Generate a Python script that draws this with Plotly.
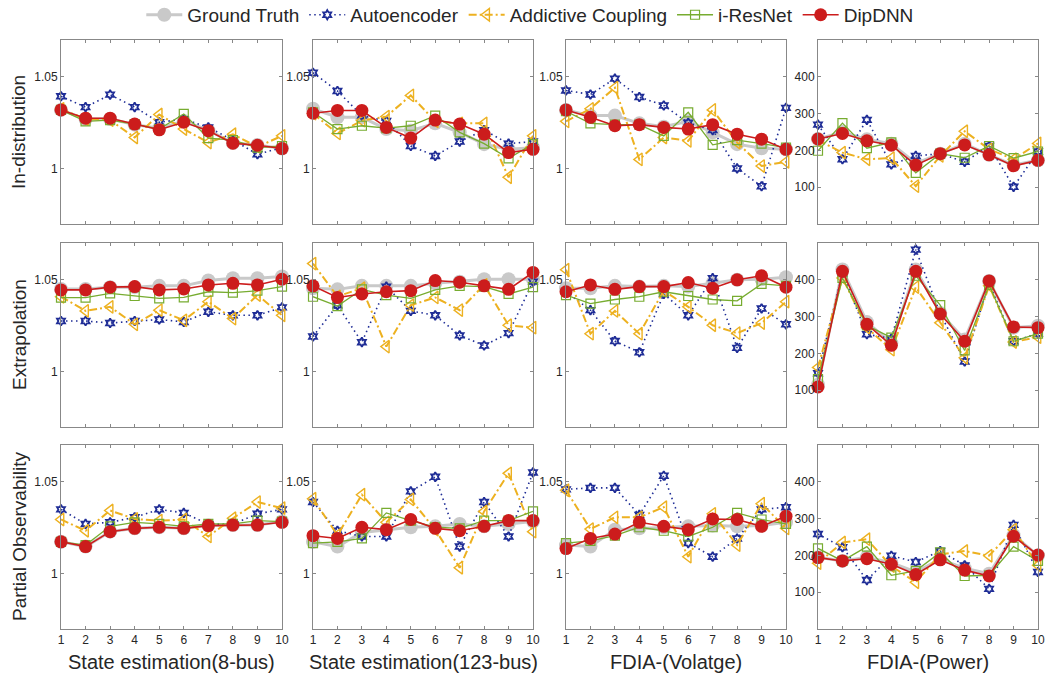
import plotly.graph_objects as go

x = list(range(1, 11))

methods = ["Ground Truth", "Autoencoder", "Addictive Coupling", "i-ResNet", "DipDNN"]
row_labels = ["In-distribution", "Extrapolation", "Partial Observability"]
col_titles = ["State estimation(8-bus)", "State estimation(123-bus)", "FDIA-(Volatge)", "FDIA-(Power)"]

v_ticks = [1, 1.05]
v_ticktext = ["1", "1.05"]
p_ticks = [100, 200, 300, 400]
p_ticktext = ["100", "200", "300", "400"]

# ---------- Row 1: In-distribution ----------
gt_r1c1 = [1.032, 1.027, 1.027, 1.024, 1.022, 1.026, 1.021, 1.014, 1.013, 1.011]
ae_r1c1 = [1.0394, 1.0335, 1.0403, 1.0335, 1.0253, 1.027, 1.0225, 1.0156, 1.0079, 1.0115]
ac_r1c1 = [1.0326, 1.027, 1.0265, 1.017, 1.0295, 1.0216, 1.0143, 1.0188, 1.0119, 1.0179]
ir_r1c1 = [1.032, 1.0258, 1.0265, 1.0243, 1.0216, 1.0298, 1.0167, 1.0156, 1.0115, 1.0124]
dd_r1c1 = [1.032, 1.0275, 1.0275, 1.0243, 1.0212, 1.0253, 1.0207, 1.0139, 1.0128, 1.011]

gt_r1c2 = [1.0326, 1.028, 1.028, 1.0216, 1.0207, 1.0247, 1.0198, 1.0134, 1.0106, 1.0115]
ae_r1c2 = [1.0522, 1.0423, 1.0289, 1.026, 1.0124, 1.007, 1.0148, 1.021, 1.0137, 1.0148]
ac_r1c2 = [1.030, 1.0192, 1.0262, 1.0284, 1.0399, 1.0258, 1.0247, 1.0247, 0.9954, 1.0179]
ir_r1c2 = [1.0307, 1.0216, 1.0234, 1.0221, 1.0234, 1.0289, 1.0198, 1.0137, 1.0057, 1.0134]
dd_r1c2 = [1.0302, 1.0317, 1.0317, 1.0225, 1.0167, 1.0265, 1.0243, 1.0188, 1.0088, 1.0106]

gt_r1c3 = [1.032, 1.0289, 1.0289, 1.0247, 1.0229, 1.0258, 1.0198, 1.0134, 1.0112, 1.0106]
ae_r1c3 = [1.0426, 1.0404, 1.049, 1.039, 1.0344, 1.025, 1.021, 1.0002, 0.9905, 1.0331]
ac_r1c3 = [1.0258, 1.0326, 1.0441, 1.0051, 1.017, 1.0152, 1.032, 1.0143, 1.0015, 1.0038]
ir_r1c3 = [1.0313, 1.0247, 1.024, 1.024, 1.0179, 1.0307, 1.013, 1.0156, 1.0137, 1.0115]
dd_r1c3 = [1.032, 1.028, 1.0234, 1.024, 1.0225, 1.0216, 1.024, 1.0188, 1.0161, 1.0106]

gt_r1c4 = [231, 250, 230, 218, 165, 191, 218, 188, 160, 173]
ae_r1c4 = [270, 176, 283, 162, 185, 191, 169, 212, 101, 197]
ac_r1c4 = [228, 194, 176, 179, 103, 185, 252, 203, 176, 219]
ir_r1c4 = [199, 274, 206, 222, 139, 191, 180, 212, 179, 197]
dd_r1c4 = [231, 246, 226, 214, 160, 191, 215, 188, 158, 173]

# ---------- Row 2: Extrapolation ----------
gt_r2c1 = [1.045, 1.045, 1.046, 1.046, 1.0467, 1.0467, 1.0496, 1.0509, 1.0509, 1.0518]
ae_r2c1 = [1.0276, 1.0276, 1.0265, 1.0276, 1.0284, 1.0271, 1.0326, 1.0307, 1.0307, 1.035]
ac_r2c1 = [1.0408, 1.0331, 1.0353, 1.0258, 1.0335, 1.028, 1.0381, 1.0289, 1.0417, 1.0307]
ir_r2c1 = [1.0403, 1.0403, 1.0426, 1.0412, 1.0399, 1.0404, 1.0435, 1.043, 1.0441, 1.0463]
dd_r2c1 = [1.0445, 1.0445, 1.046, 1.0463, 1.0445, 1.045, 1.0472, 1.0481, 1.0472, 1.0503]

gt_r2c2 = [1.0454, 1.0448, 1.0467, 1.0467, 1.0467, 1.0481, 1.049, 1.0503, 1.0503, 1.0503]
ae_r2c2 = [1.0192, 1.0362, 1.0161, 1.0463, 1.0331, 1.0307, 1.0198, 1.0143, 1.021, 1.049]
ac_r2c2 = [1.0588, 1.041, 1.0454, 1.0137, 1.0362, 1.0404, 1.0335, 1.0472, 1.0253, 1.024]
ir_r2c2 = [1.0408, 1.0357, 1.0448, 1.0417, 1.0399, 1.0445, 1.0467, 1.0463, 1.0423, 1.046]
dd_r2c2 = [1.0467, 1.0404, 1.0423, 1.0435, 1.0441, 1.0496, 1.0487, 1.0467, 1.0448, 1.054]

gt_r2c3 = [1.0454, 1.0454, 1.0467, 1.0463, 1.0467, 1.0463, 1.0481, 1.05, 1.0503, 1.0514]
ae_r2c3 = [1.0435, 1.0335, 1.0167, 1.0106, 1.0423, 1.0307, 1.0509, 1.013, 1.0344, 1.0258]
ac_r2c3 = [1.0555, 1.0207, 1.0331, 1.0207, 1.0441, 1.0353, 1.0253, 1.021, 1.0265, 1.0381]
ir_r2c3 = [1.0417, 1.0371, 1.0393, 1.0408, 1.0435, 1.0412, 1.0393, 1.0386, 1.0478, 1.0467]
dd_r2c3 = [1.0435, 1.0472, 1.0448, 1.0463, 1.0463, 1.0485, 1.0454, 1.05, 1.0522, 1.046]

gt_r2c4 = [115, 428, 285, 228, 428, 310, 238, 397, 270, 275]
ae_r2c4 = [146, 418, 252, 240, 482, 308, 178, 391, 233, 254]
ac_r2c4 = [162, 405, 270, 210, 380, 283, 188, 384, 231, 244]
ir_r2c4 = [130, 405, 276, 243, 411, 331, 208, 386, 233, 254]
dd_r2c4 = [109, 423, 279, 222, 423, 307, 233, 397, 272, 270]

# ---------- Row 3: Partial Observability ----------
gt_r3c1 = [1.0174, 1.0148, 1.0229, 1.0247, 1.0253, 1.0247, 1.0262, 1.0265, 1.0265, 1.0284]
ae_r3c1 = [1.035, 1.0271, 1.028, 1.0307, 1.035, 1.0331, 1.027, 1.027, 1.0326, 1.035]
ac_r3c1 = [1.0295, 1.0234, 1.0344, 1.0298, 1.0289, 1.0295, 1.0203, 1.0302, 1.039, 1.0357]
ir_r3c1 = [1.0174, 1.0156, 1.0258, 1.028, 1.0271, 1.0258, 1.0271, 1.0271, 1.0289, 1.0284]
dd_r3c1 = [1.0174, 1.0148, 1.0229, 1.0247, 1.0253, 1.0247, 1.0262, 1.0265, 1.0265, 1.028]

gt_r3c2 = [1.0174, 1.0148, 1.0225, 1.024, 1.0253, 1.0258, 1.0271, 1.0258, 1.0271, 1.0284]
ae_r3c2 = [1.039, 1.0234, 1.0203, 1.0203, 1.0448, 1.0527, 1.0148, 1.039, 1.0203, 1.0551]
ac_r3c2 = [1.0408, 1.021, 1.043, 1.028, 1.0404, 1.024, 1.0033, 1.0339, 1.0546, 1.0229]
ir_r3c2 = [1.0167, 1.0174, 1.0192, 1.0331, 1.0289, 1.0253, 1.0247, 1.0289, 1.0289, 1.0339]
dd_r3c2 = [1.0207, 1.0192, 1.0253, 1.024, 1.0295, 1.0247, 1.0234, 1.0258, 1.0289, 1.0289]

gt_r3c3 = [1.0156, 1.0148, 1.024, 1.0247, 1.0253, 1.0258, 1.0262, 1.0258, 1.0262, 1.028]
ae_r3c3 = [1.0459, 1.0467, 1.0467, 1.032, 1.0533, 1.0167, 1.0093, 1.0192, 1.035, 1.0362]
ac_r3c3 = [1.0454, 1.0243, 1.0307, 1.0307, 1.0362, 1.0093, 1.0326, 1.0156, 1.0381, 1.0247]
ir_r3c3 = [1.0167, 1.0179, 1.0207, 1.0253, 1.0234, 1.0203, 1.0253, 1.0331, 1.0295, 1.0271]
dd_r3c3 = [1.0137, 1.0192, 1.0216, 1.028, 1.0258, 1.024, 1.0298, 1.0295, 1.0258, 1.0313]

gt_r3c4 = [195, 185, 195, 180, 155, 190, 165, 150, 255, 200]
ae_r3c4 = [258, 222, 133, 199, 182, 212, 173, 109, 283, 155]
ac_r3c4 = [179, 235, 244, 171, 127, 203, 212, 199, 270, 173]
ir_r3c4 = [219, 185, 224, 146, 158, 208, 144, 146, 224, 185]
dd_r3c4 = [194, 185, 191, 176, 148, 188, 160, 144, 252, 201]

panels = [
    [(gt_r1c1, ae_r1c1, ac_r1c1, ir_r1c1, dd_r1c1), (gt_r1c2, ae_r1c2, ac_r1c2, ir_r1c2, dd_r1c2),
     (gt_r1c3, ae_r1c3, ac_r1c3, ir_r1c3, dd_r1c3), (gt_r1c4, ae_r1c4, ac_r1c4, ir_r1c4, dd_r1c4)],
    [(gt_r2c1, ae_r2c1, ac_r2c1, ir_r2c1, dd_r2c1), (gt_r2c2, ae_r2c2, ac_r2c2, ir_r2c2, dd_r2c2),
     (gt_r2c3, ae_r2c3, ac_r2c3, ir_r2c3, dd_r2c3), (gt_r2c4, ae_r2c4, ac_r2c4, ir_r2c4, dd_r2c4)],
    [(gt_r3c1, ae_r3c1, ac_r3c1, ir_r3c1, dd_r3c1), (gt_r3c2, ae_r3c2, ac_r3c2, ir_r3c2, dd_r3c2),
     (gt_r3c3, ae_r3c3, ac_r3c3, ir_r3c3, dd_r3c3), (gt_r3c4, ae_r3c4, ac_r3c4, ir_r3c4, dd_r3c4)],
]

# ---------- styles ----------
styles = [
    dict(line=dict(color="#c9c9c9", width=3), marker=dict(symbol="circle", size=14, color="#c9c9c9")),
    dict(line=dict(color="#1f2d96", width=1.6, dash="1.5px,3.5px"),
         marker=dict(symbol="hexagram-open", size=7, color="#1f2d96", line=dict(width=1.8, color="#1f2d96"))),
    dict(line=dict(color="#EDB120", width=2, dash="8px,3px,2px,3px"),
         marker=dict(symbol="triangle-left-open", size=11, color="#EDB120", line=dict(width=1.4, color="#EDB120"))),
    dict(line=dict(color="#77AC30", width=1.3),
         marker=dict(symbol="square-open", size=9, color="#77AC30", line=dict(width=1.2, color="#77AC30"))),
    dict(line=dict(color="#cc1c1c", width=1.6), marker=dict(symbol="circle", size=13, color="#cc1c1c")),
]

W, H = 1048, 680
col_px = [(61, 282), (313, 533), (566, 786), (818, 1038)]
row_px = [(40, 224), (243, 427), (445, 629)]

FONT = "Liberation Sans, Arial, Helvetica, sans-serif"
AXCOL = "#888888"
TXT = "#262626"

fig = go.Figure()
layout = {}
for r in range(3):
    for c in range(4):
        n = r * 4 + c + 1
        xa = "x" if n == 1 else f"x{n}"
        ya = "y" if n == 1 else f"y{n}"
        for k, series in enumerate(panels[r][c]):
            st = styles[k]
            fig.add_trace(go.Scatter(
                x=x, y=series, mode="lines+markers", name=methods[k],
                line=st["line"], marker=st["marker"], cliponaxis=False,
                showlegend=(n == 1), xaxis=xa, yaxis=ya,
            ))
        x0, x1 = col_px[c]
        y0, y1 = row_px[r]
        xkey = "xaxis" if n == 1 else f"xaxis{n}"
        ykey = "yaxis" if n == 1 else f"yaxis{n}"
        layout[xkey] = dict(
            domain=[x0 / W, x1 / W], anchor=ya, range=[1, 10], automargin=False,
            tickmode="array", tickvals=x, ticktext=[str(v) for v in x],
            showticklabels=(r == 2), ticks="inside", ticklen=3, tickcolor=AXCOL,
            showline=True, linecolor=AXCOL, linewidth=1, mirror="ticks",
            showgrid=False, zeroline=False,
            tickfont=dict(family=FONT, size=12, color=TXT),
        )
        if c < 3:
            yr, tv, tt = [0.97, 1.07], v_ticks, v_ticktext
        else:
            yr, tv, tt = [0, 500], p_ticks, p_ticktext
        layout[ykey] = dict(
            domain=[1 - y1 / H, 1 - y0 / H], anchor=xa, range=yr, automargin=False,
            tickmode="array", tickvals=tv, ticktext=tt,
            ticks="inside", ticklen=3, tickcolor=AXCOL,
            showline=True, linecolor=AXCOL, linewidth=1, mirror="ticks",
            showgrid=False, zeroline=False,
            tickfont=dict(family=FONT, size=12, color=TXT),
        )

annotations = []
for r, lab in enumerate(row_labels):
    y0, y1 = row_px[r]
    annotations.append(dict(
        text=lab, x=19 / W, y=1 - (y0 + y1) / 2 / H, xref="paper", yref="paper",
        textangle=-90, showarrow=False, xanchor="center", yanchor="middle",
        font=dict(family=FONT, size=19, color=TXT),
    ))
for c, lab in enumerate(col_titles):
    x0, x1 = col_px[c]
    annotations.append(dict(
        text=lab, x=(x0 + x1) / 2 / W, y=1 - 662 / H, xref="paper", yref="paper",
        showarrow=False, xanchor="center", yanchor="middle",
        font=dict(family=FONT, size=20, color=TXT),
    ))

fig.update_layout(
    template="none",
    width=W, height=H,
    margin=dict(l=0, r=0, t=0, b=0, autoexpand=False),
    paper_bgcolor="white", plot_bgcolor="white",
    font=dict(family=FONT, color=TXT),
    showlegend=True,
    legend=dict(orientation="h", x=0.506, xanchor="center", y=1.006, yanchor="top",
                font=dict(family=FONT, size=19, color=TXT), bgcolor="rgba(0,0,0,0)",
                itemwidth=36, tracegroupgap=0),
    annotations=annotations,
    **layout,
)

fig.write_html(
    "out.html",
    config={"displayModeBar": False},
    post_script="document.body.style.margin='0';document.body.style.padding='0';"
                "document.documentElement.style.overflow='hidden';",
)
